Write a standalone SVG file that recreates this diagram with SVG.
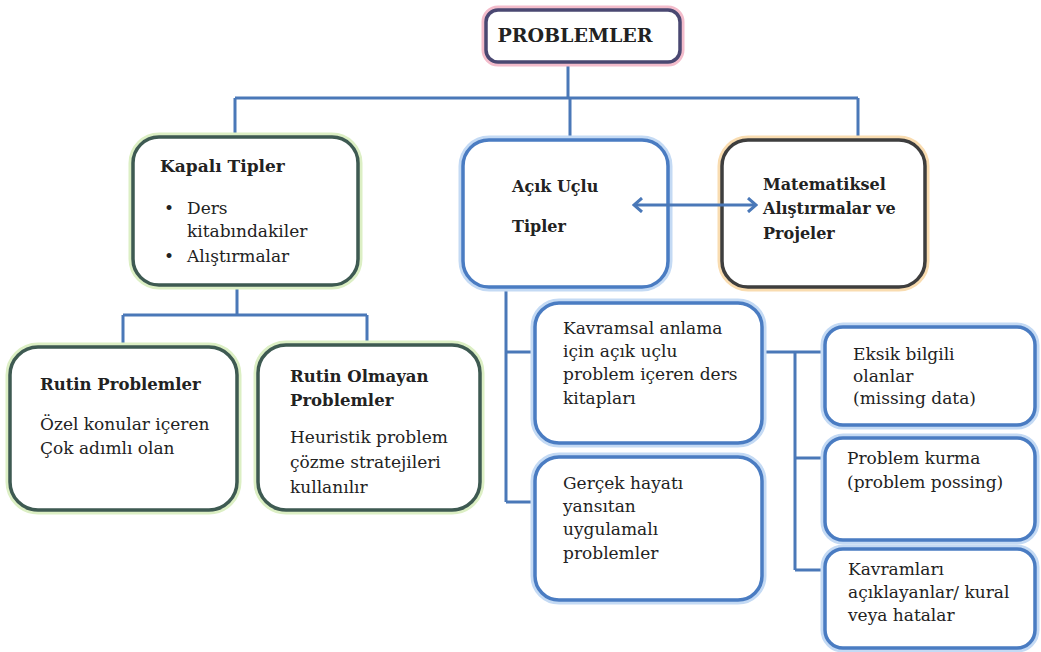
<svg xmlns="http://www.w3.org/2000/svg" width="1041" height="652" viewBox="0 0 1041 652">
<defs>
<style>
text{font-family:'DejaVu Serif','Liberation Serif',serif;font-size:17px;fill:#222}
.b{font-weight:bold;font-size:16px}
.glow{fill:none;stroke-width:9}
.box{fill:#fff;stroke-width:3.5}
.g .glow{stroke:#dcefc4}.g .box{stroke:#3e5a52}
.bl .glow{stroke:#c4daf4}.bl .box{stroke:#4a7cc2}
.o .glow{stroke:#f9dcb0}.o .box{stroke:#3e3e3e}
.p .glow{stroke:#f3bccb}.p .box{stroke:#4a4872}
.c{fill:none;stroke:#4a78b8;stroke-width:3}
</style>
<marker id="ah" viewBox="0 0 12 16" refX="10" refY="8" markerWidth="12" markerHeight="16" markerUnits="userSpaceOnUse" orient="auto-start-reverse">
<polyline points="2,1 10,8 2,15" fill="none" stroke="#4a78b8" stroke-width="3"/>
</marker>
</defs>
<rect width="1041" height="652" fill="#fff"/>
<g id="connectors">
<path class="c" d="M568 62V98M235 98H858M235 98V137M570 98V140M858 98V140"/>
<path class="c" d="M237 285V315M123 315H367M123 315V347M367 315V345"/>
<path class="c" d="M506 287V502M506 352H535M506 502H535"/>
<path class="c" d="M762 352H795M795 352V570M795 352H825M795 458H825M795 570H825"/>
</g>
<g id="problemler" class="p">
<rect class="glow" x="486" y="10" width="194" height="52" rx="12"/>
<rect class="box" x="486" y="10" width="194" height="52" rx="12"/>
<text class="b" x="575" y="42" text-anchor="middle" style="font-size:19px">PROBLEMLER</text>
</g>
<g id="kapali" class="g">
<rect class="glow" x="133" y="137" width="225" height="148" rx="26"/>
<rect class="box" x="133" y="137" width="225" height="148" rx="26"/>
<text class="b" x="160" y="172" style="font-size:17px">Kapalı Tipler</text>
<text x="164" y="214">•</text>
<text x="187" y="214">Ders</text>
<text x="187" y="237">kitabındakiler</text>
<text x="164" y="262">•</text>
<text x="187" y="262">Alıştırmalar</text>
</g>
<g id="acik" class="bl">
<rect class="glow" x="463" y="140" width="205" height="147" rx="26"/>
<rect class="box" x="463" y="140" width="205" height="147" rx="26"/>
<text class="b" x="512" y="192">Açık Uçlu</text>
<text class="b" x="512" y="232">Tipler</text>
</g>
<g id="matematiksel" class="o">
<rect class="glow" x="722" y="140" width="203" height="147" rx="26"/>
<rect class="box" x="722" y="140" width="203" height="147" rx="26"/>
<text class="b" x="763" y="190">Matematiksel</text>
<text class="b" x="763" y="214">Alıştırmalar ve</text>
<text class="b" x="763" y="239">Projeler</text>
</g>
<g id="rutin" class="g">
<rect class="glow" x="10" y="347" width="227" height="163" rx="28"/>
<rect class="box" x="10" y="347" width="227" height="163" rx="28"/>
<text class="b" x="40" y="390" style="font-size:16.5px">Rutin Problemler</text>
<text x="40" y="430">Özel konular içeren</text>
<text x="40" y="454">Çok adımlı olan</text>
</g>
<g id="rutinolmayan" class="g">
<rect class="glow" x="258" y="345" width="222" height="165" rx="28"/>
<rect class="box" x="258" y="345" width="222" height="165" rx="28"/>
<text class="b" x="290" y="382" style="font-size:16.5px">Rutin Olmayan</text>
<text class="b" x="290" y="406" style="font-size:16.5px">Problemler</text>
<text x="290" y="443">Heuristik problem</text>
<text x="290" y="468">çözme stratejileri</text>
<text x="290" y="493">kullanılır</text>
</g>
<g id="kavramsal" class="bl">
<rect class="glow" x="535" y="303" width="227" height="140" rx="24"/>
<rect class="box" x="535" y="303" width="227" height="140" rx="24"/>
<text x="563" y="334">Kavramsal anlama</text>
<text x="563" y="357">için açık uçlu</text>
<text x="563" y="380">problem içeren ders</text>
<text x="563" y="404">kitapları</text>
</g>
<g id="gercek" class="bl">
<rect class="glow" x="535" y="457" width="227" height="143" rx="24"/>
<rect class="box" x="535" y="457" width="227" height="143" rx="24"/>
<text x="563" y="489">Gerçek hayatı</text>
<text x="563" y="512">yansıtan</text>
<text x="563" y="535">uygulamalı</text>
<text x="563" y="559">problemler</text>
</g>
<g id="eksik" class="bl">
<rect class="glow" x="825" y="327" width="210" height="98" rx="18"/>
<rect class="box" x="825" y="327" width="210" height="98" rx="18"/>
<text x="853" y="360">Eksik bilgili</text>
<text x="853" y="382">olanlar</text>
<text x="853" y="404">(missing data)</text>
</g>
<g id="kurma" class="bl">
<rect class="glow" x="825" y="438" width="210" height="102" rx="18"/>
<rect class="box" x="825" y="438" width="210" height="102" rx="18"/>
<text x="847" y="464">Problem kurma</text>
<text x="847" y="488">(problem possing)</text>
</g>
<g id="kavramlari" class="bl">
<rect class="glow" x="825" y="549" width="210" height="99" rx="18"/>
<rect class="box" x="825" y="549" width="210" height="99" rx="18"/>
<text x="848" y="575">Kavramları</text>
<text x="848" y="598">açıklayanlar/ kural</text>
<text x="848" y="621">veya hatalar</text>
</g>
<g id="arrow">
<line class="c" x1="634" y1="205" x2="756" y2="205" marker-start="url(#ah)" marker-end="url(#ah)"/>
</g>
</svg>
